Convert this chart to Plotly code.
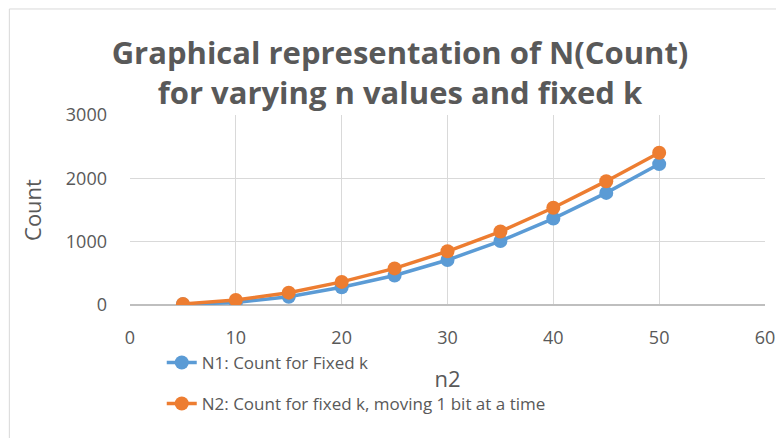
import plotly.graph_objects as go

# n values on the x axis
n_values = [5, 10, 15, 20, 25, 30, 35, 40, 45, 50]
# N1: count for fixed k
n1_counts = [10, 40, 130, 280, 465, 710, 1010, 1365, 1770, 2225]
# N2: count for fixed k, moving 1 bit at a time
n2_counts = [15, 80, 195, 365, 578, 848, 1160, 1535, 1955, 2405]

x_ticks = [0, 10, 20, 30, 40, 50, 60]
y_ticks = [0, 1000, 2000, 3000]

FONT = "Open Sans"
GREY = "#595959"

fig = go.Figure()
fig.add_trace(go.Scatter(
    x=n_values, y=n1_counts, mode="lines+markers",
    name="N1: Count for Fixed k", legendgroup="a",
    line={"color": "#5B9BD5", "width": 3.5},
    marker={"color": "#5B9BD5", "size": 14},
))
fig.add_trace(go.Scatter(
    x=n_values, y=n2_counts, mode="lines+markers",
    name="N2: Count for fixed k, moving 1 bit at a time", legendgroup="b",
    line={"color": "#ED7D31", "width": 3.5},
    marker={"color": "#ED7D31", "size": 14},
))

fig.update_layout(
    width=784, height=438,
    margin={"l": 122, "r": 27, "t": 107, "b": 141},
    paper_bgcolor="white", plot_bgcolor="white",
    font={"family": FONT, "color": GREY, "size": 18},
    title={
        "text": "<b>Graphical representation of N(Count)<br>for varying n values and fixed k</b>",
        "x": 0.5, "xanchor": "center", "y": 0.873, "yanchor": "middle",
        "font": {"family": FONT, "size": 31, "color": GREY},
    },
    xaxis={
        "range": [0, 60], "tickvals": x_ticks, "showgrid": True,
        "gridcolor": "#d9d9d9", "gridwidth": 1, "zeroline": False,
        "showline": False, "ticks": "", "ticklabelstandoff": 20,
        "title": {"text": "n2", "standoff": 23},
    },
    yaxis={
        "range": [0, 3000], "tickvals": y_ticks, "showgrid": True,
        "gridcolor": "#d9d9d9", "gridwidth": 1, "zeroline": True,
        "zerolinecolor": "#bfbfbf", "zerolinewidth": 1.5,
        "showline": False, "ticks": "", "ticklabelstandoff": 22,
        "title": {"text": "Count", "standoff": 18},
    },
    legend={
        "x": 0.05, "xanchor": "left", "y": -0.21, "yanchor": "top",
        "orientation": "v", "tracegroupgap": 16,
        "bgcolor": "rgba(0,0,0,0)", "font": {"size": 17, "color": GREY},
    },
    shapes=[{
        "type": "rect", "xref": "paper", "yref": "paper",
        "x0": -0.19, "x1": 1.2, "y0": -0.9, "y1": 1.558,
        "line": {"color": "#d9d9d9", "width": 1}, "layer": "below",
    }],
)

fig.write_html("out.html")
